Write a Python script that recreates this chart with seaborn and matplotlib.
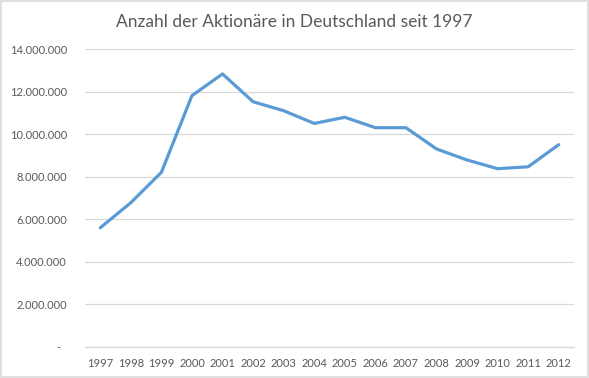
import matplotlib
matplotlib.use("Agg")
import matplotlib.pyplot as plt
import seaborn as sns
import pandas as pd
from matplotlib.patches import Rectangle
from matplotlib.ticker import FuncFormatter

years = [1997, 1998, 1999, 2000, 2001, 2002, 2003, 2004, 2005, 2006, 2007, 2008, 2009, 2010, 2011, 2012]
aktionaere = [5600000, 6780000, 8210000, 11820000, 12840000, 11530000, 11110000, 10510000,
              10800000, 10310000, 10310000, 9310000, 8790000, 8380000, 8470000, 9510000]
y_ticks = [0, 2000000, 4000000, 6000000, 8000000, 10000000, 12000000, 14000000]
title = "Anzahl der Aktionäre in Deutschland seit 1997"

df = pd.DataFrame({"Jahr": years, "Aktionäre": aktionaere})

sns.set_style("white")
plt.rcParams["font.family"] = ["Lato", "DejaVu Sans"]

fig = plt.figure(figsize=(5.89, 3.78), dpi=100)
ax = fig.add_axes([85/589, 1 - 346.7/378, (574-85)/589, (346.7-49.3)/378])

sns.lineplot(data=df, x="Jahr", y="Aktionäre", ax=ax, color="#5B9BD5", linewidth=2.3)

text_color = "#595959"
grid_color = "#D9D9D9"

ax.set_xlim(1996.5, 2012.5)
ax.set_ylim(0, 14000000)
ax.set_yticks(y_ticks)
ax.yaxis.set_major_formatter(FuncFormatter(
    lambda v, p: "-  " if v == 0 else f"{int(v):,}".replace(",", ".")))
ax.set_xticks(years)
ax.set_xticklabels([str(y) for y in years])
ax.tick_params(axis="both", length=0, colors=text_color, labelsize=8)
ax.tick_params(axis="y", pad=13)
ax.tick_params(axis="x", pad=8)
ax.grid(axis="y", color=grid_color, linewidth=0.9)
ax.set_axisbelow(True)
for s in ["top", "right", "left"]:
    ax.spines[s].set_visible(False)
ax.spines["bottom"].set_color(grid_color)
ax.spines["bottom"].set_linewidth(0.9)
ax.set_xlabel("")
ax.set_ylabel("")

fig.text(294/589, 1 - 22/378, title, ha="center", va="center", fontsize=12.5, color=text_color)

fig.patches.append(Rectangle((0.001, 0.002), 0.997, 0.995, transform=fig.transFigure,
                             fill=False, edgecolor="#D9D9D9", linewidth=1.2))

fig.savefig("out.png", dpi=100)
